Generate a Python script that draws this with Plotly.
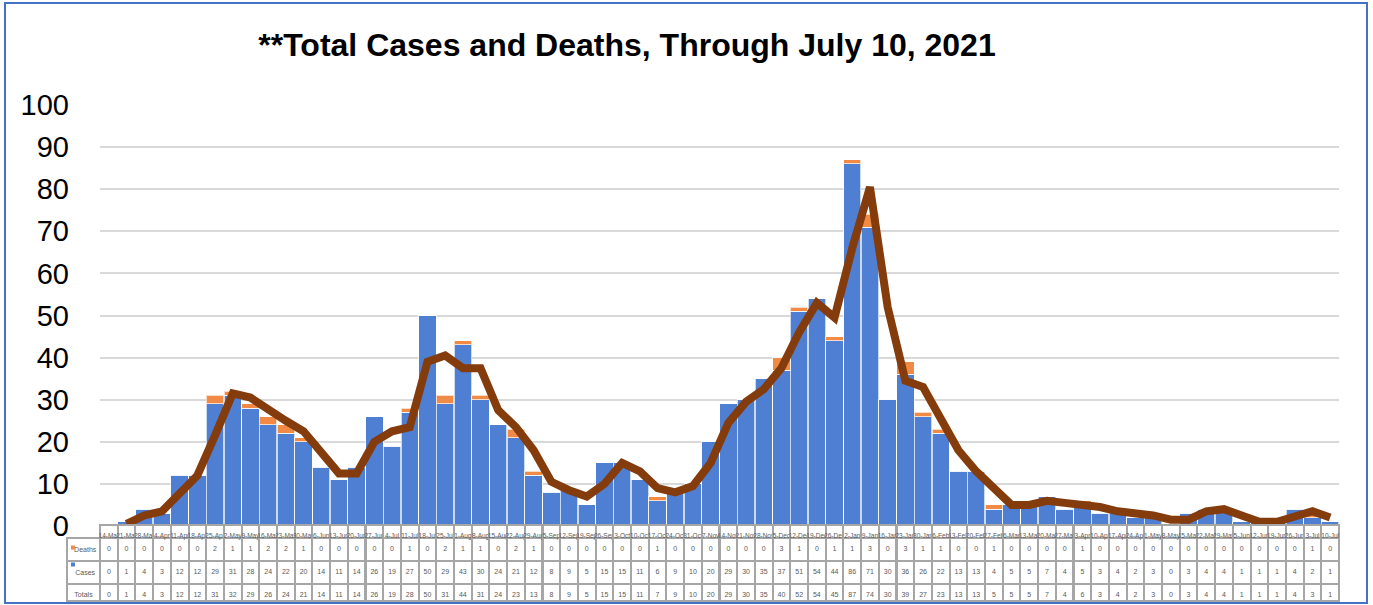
import plotly.graph_objects as go

dates = ["14-Mar","21-Mar","28-Mar","4-Apr","11-Apr","18-Apr","25-Apr","2-May","9-May","16-May",
         "23-May","30-May","6-Jun","13-Jun","20-Jun","27-Jun","4-Jul","11-Jul","18-Jul","25-Jul",
         "1-Aug","8-Aug","15-Aug","22-Aug","29-Aug","5-Sep","12-Sep","19-Sep","26-Sep","3-Oct",
         "10-Oct","17-Oct","24-Oct","31-Oct","7-Nov","14-Nov","21-Nov","28-Nov","5-Dec","12-Dec",
         "19-Dec","26-Dec","2-Jan","9-Jan","16-Jan","23-Jan","30-Jan","6-Feb","13-Feb","20-Feb",
         "27-Feb","6-Mar","13-Mar","20-Mar","27-Mar","3-Apr","10-Apr","17-Apr","24-Apr","1-May",
         "8-May","15-May","22-May","29-May","5-Jun","12-Jun","19-Jun","26-Jun","3-Jul","10-Jul"]

deaths = [0,0,0,0,0,0,2,1,1,2, 2,1,0,0,0,0,0,1,0,2, 1,1,0,2,1,0,0,0,0,0,
          0,1,0,0,0,0,0,0,3,1, 0,1,1,3,0,3,1,1,0,0, 1,0,0,0,0,1,0,0,0,0,
          0,0,0,0,0,0,0,0,1,0]
cases = [0,1,4,3,12,12,29,31,28,24, 22,20,14,11,14,26,19,27,50,29, 43,30,24,21,12,8,9,5,15,15,
         11,6,9,10,20,29,30,35,37,51, 54,44,86,71,30,36,26,22,13,13, 4,5,5,7,4,5,3,4,2,3,
         0,3,4,4,1,1,1,4,2,1]
totals = [0,1,4,3,12,12,31,32,29,26, 24,21,14,11,14,26,19,28,50,31, 44,31,24,23,13,8,9,5,15,15,
          11,7,9,10,20,29,30,35,40,52, 54,45,87,74,30,39,27,23,13,13, 5,5,5,7,4,6,3,4,2,3,
          0,3,4,4,1,1,1,4,3,1]
# trend line (starts at 21-Mar)
trend = [0.5,2.5,3.5,7.5,12,21.5,31.5,30.5,27.5, 25,22.5,17.5,12.5,12.5,20,22.5,23.5,39,40.5,
         37.5,37.5,27.5,23.5,18,10.5,8.5,7,10,15, 13,9,8,9.5,15,24.5,29.5,32.5,37.5,46,
         53,49.5,66,80.5,52,34.5,33,25,18,13, 9,5,5,6,5.5,5,4.5,3.5,3,2.5,
         1.5,1.5,3.5,4,2.5,1,1,2.5,3.5,2]
row_labels = ["Deaths", "Cases", "Totals"]

W, H = 1373, 605
ML, MR, MT, MB = 67, W - 1339, 105, 3
pw = W - ML - MR
ph = H - MT - MB
pb = H - MB  # pixel y of paper bottom
x0frac = (100 - ML) / pw
ydom0 = (pb - 526) / ph
tabtop = (pb - 525) / ph

C_CASES, C_DEATHS = "#4F7FD3", "#F08A45"
CLEAR = "rgba(0,0,0,0)"

def px_x(p):
    return (p - ML) / pw

def px_y(p):
    return (pb - p) / ph

fig = go.Figure()
fig.add_trace(go.Bar(x=dates, y=cases, name="Cases", marker=dict(color=C_CASES, line=dict(color="rgba(255,255,255,0.7)", width=1))))
fig.add_trace(go.Bar(x=dates, y=deaths, name="Deaths", marker=dict(color=C_DEATHS, line=dict(color="rgba(255,255,255,0.7)", width=1))))
fig.add_trace(go.Scatter(x=dates[1:], y=trend, mode="lines", line=dict(color="#843C0C", width=8), cliponaxis=False, name="Trend"))

lbl_col = ["&nbsp;&nbsp;" + row_labels[0], "&nbsp;&nbsp;" + row_labels[1], row_labels[2]]
cell_vals = [lbl_col] + [[str(deaths[i]), str(cases[i]), str(totals[i])] for i in range(len(dates))]
fig.add_trace(go.Table(
    domain=dict(x=[0, 1], y=[0, tabtop]),
    columnwidth=[33] + [(pw - 33) / len(dates)] * len(dates),
    header=dict(values=[""] + dates, height=13, align="center",
                fill=dict(color=[CLEAR] + ["white"] * len(dates)),
                line=dict(color=[CLEAR] + ["#A6A6A6"] * len(dates), width=2),
                font=dict(size=6.5, color="#595959", family="Liberation Sans")),
    cells=dict(values=cell_vals, height=17, align="center",
               fill=dict(color="white"),
               line=dict(color="#A6A6A6", width=2),
               font=dict(size=7, color="#595959", family="Liberation Sans")),
))

shapes = [dict(type="rect", xref="paper", yref="paper",
               x0=px_x(5), x1=px_x(1367), y0=px_y(603), y1=px_y(3),
               line=dict(color="#4472C4", width=2), fillcolor=CLEAR, layer="below")]
for yc, col in [(547.5, C_DEATHS), (564.5, C_CASES)]:
    shapes.append(dict(type="rect", xref="paper", yref="paper",
                       x0=px_x(71), x1=px_x(75), y0=px_y(yc + 2), y1=px_y(yc - 2),
                       line=dict(width=0), fillcolor=col, layer="above"))

fig.update_layout(
    width=W, height=H,
    margin=dict(l=ML, r=MR, t=MT, b=MB, autoexpand=False),
    paper_bgcolor="white", plot_bgcolor="white",
    barmode="stack", bargap=0.02, showlegend=False,
    title=dict(text="<b>**Total Cases and Deaths, Through July 10, 2021</b>", x=627 / W, xanchor="center",
               y=1 - 45 / H, yanchor="middle", yref="container", xref="container",
               font=dict(size=32, color="black", family="Liberation Sans")),
    xaxis=dict(domain=[x0frac, 1], type="category", showticklabels=False, showgrid=False,
               zeroline=False, showline=False, automargin=False, range=[-0.5, len(dates) - 0.5]),
    yaxis=dict(domain=[ydom0, 1], range=[0, 100], dtick=10, showgrid=True, gridcolor="#D9D9D9",
               gridwidth=1.5, zeroline=False, showline=False, ticklabelstandoff=30, automargin=False,
               tickfont=dict(size=29, color="black", family="Liberation Sans")),
    shapes=shapes,
)

page_css = "document.documentElement.style.margin='0';document.body.style.margin='0';"
fig.write_html("out.html", config={"displayModeBar": False}, post_script=page_css)
